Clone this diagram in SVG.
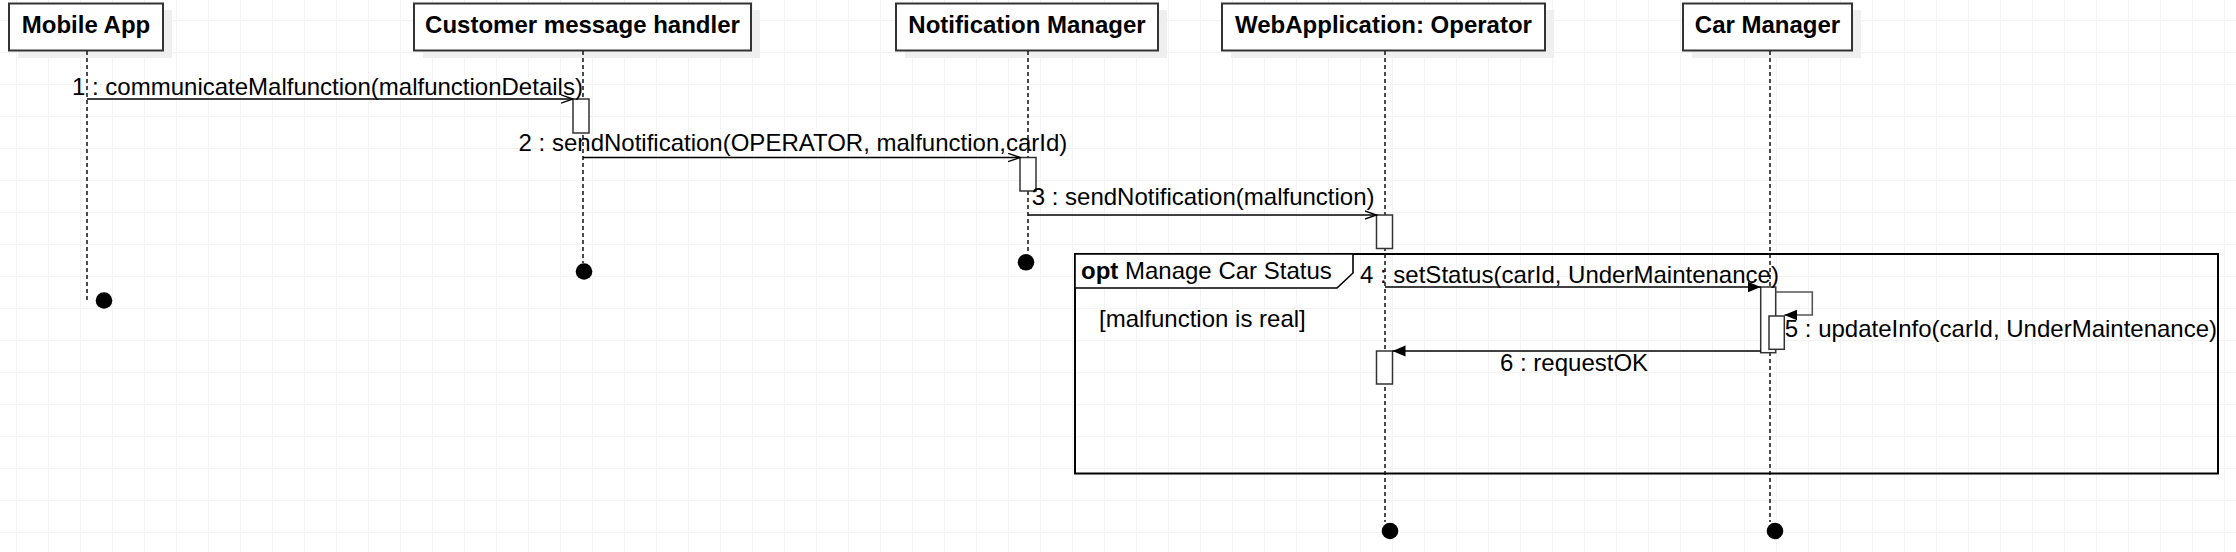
<svg xmlns="http://www.w3.org/2000/svg" width="2236" height="552" viewBox="0 0 2236 552">
<style>
.box{fill:#fff;stroke:#333;stroke-width:2}
.shadow{fill:#efefef}
.title{font-family:"Liberation Sans",Arial,sans-serif;font-size:24px;font-weight:bold;fill:#000;text-anchor:middle}
.lbl{font-family:"Liberation Sans",Arial,sans-serif;font-size:24px;fill:#000}
.life{stroke:#111;stroke-width:1.5;stroke-dasharray:4 3;fill:none}
.bar{fill:#fff;stroke:#333;stroke-width:1.5}
.dot{fill:#000}
.msg{stroke:#000;stroke-width:1.6;fill:none}
.open{stroke:#000;stroke-width:1.4;fill:none}
.frame{fill:none;stroke:#000;stroke-width:2}
</style>
<defs>
<pattern id="grid" x="16" y="20" width="32" height="32" patternUnits="userSpaceOnUse">
<path d="M0 0.5H32M0.5 0V32" stroke="#f3f3f3" stroke-width="1" fill="none"/>
</pattern>
<marker id="openArrow" markerWidth="14" markerHeight="10" refX="12" refY="5" orient="auto" markerUnits="userSpaceOnUse">
<path d="M0 0.8L12 5L0 9.2" class="open"/>
</marker>
<marker id="fillArrow" markerWidth="14" markerHeight="12" refX="13" refY="6" orient="auto" markerUnits="userSpaceOnUse">
<path d="M0 0.5L13 6L0 11.5Z" fill="#000"/>
</marker>
</defs>
<rect width="2236" height="552" fill="#fff"/>
<rect width="2236" height="552" fill="url(#grid)"/>

<g id="frame-opt">
<rect class="frame" x="1075" y="254" width="1143" height="219.5"/>
<path d="M1075 254H1353V273L1337 288H1075Z" fill="#fff" stroke="#000" stroke-width="1.6"/>
<text class="lbl" x="1081" y="279"><tspan font-weight="bold">opt</tspan> Manage Car Status</text>
<text class="lbl" x="1099" y="327">[malfunction is real]</text>
</g>

<g id="node-mobile-app">
<rect class="shadow" x="18" y="10" width="154" height="48"/>
<rect class="box" x="9" y="3.5" width="154" height="47"/>
<text class="title" x="86" y="33">Mobile App</text>
<line class="life" x1="87" y1="51" x2="87" y2="300" stroke="#555"/>
<circle class="dot" cx="104" cy="300.5" r="8.3"/>
</g>

<g id="node-customer-handler">
<rect class="shadow" x="423" y="10" width="337" height="48"/>
<rect class="box" x="414" y="3.5" width="337" height="47"/>
<text class="title" x="582.5" y="33">Customer message handler</text>
<line class="life" x1="583" y1="51" x2="583" y2="263"/>
<rect class="bar" x="573" y="99" width="16" height="34"/>
<circle class="dot" cx="584" cy="271.5" r="8.3"/>
</g>

<g id="node-notification-manager">
<rect class="shadow" x="905" y="10" width="262" height="48"/>
<rect class="box" x="896" y="3.5" width="262" height="47"/>
<text class="title" x="1027" y="33">Notification Manager</text>
<line class="life" x1="1028" y1="51" x2="1028" y2="252"/>
<rect class="bar" x="1020" y="157.5" width="16" height="33.5"/>
<circle class="dot" cx="1026" cy="262.3" r="8.3"/>
</g>

<g id="node-webapp-operator">
<rect class="shadow" x="1231" y="10" width="323" height="48"/>
<rect class="box" x="1222" y="3.5" width="323" height="47"/>
<text class="title" x="1383.5" y="33">WebApplication: Operator</text>
<line class="life" x1="1385" y1="51" x2="1385" y2="522"/>
<rect class="bar" x="1376.5" y="215" width="16" height="33.5"/>
<rect class="bar" x="1376.5" y="351" width="16" height="33"/>
<circle class="dot" cx="1390" cy="531" r="8.3"/>
</g>

<g id="node-car-manager">
<rect class="shadow" x="1692" y="10" width="169" height="48"/>
<rect class="box" x="1683" y="3.5" width="169" height="47"/>
<text class="title" x="1767.5" y="33">Car Manager</text>
<line class="life" x1="1770" y1="51" x2="1770" y2="522"/>
<rect class="bar" x="1760.7" y="287" width="15" height="65.7"/>
<rect class="bar" x="1769" y="316" width="15.3" height="33.3"/>
<circle class="dot" cx="1775" cy="531" r="8.3"/>
</g>

<g id="connectors">
<line class="msg" x1="87" y1="99" x2="573" y2="99" marker-end="url(#openArrow)"/>
<text class="lbl" x="72" y="95">1 : communicateMalfunction(malfunctionDetails)</text>
<line class="msg" x1="583" y1="157.5" x2="1020" y2="157.5" marker-end="url(#openArrow)"/>
<text class="lbl" x="518.6" y="150.5">2 : sendNotification(OPERATOR, malfunction,carId)</text>
<line class="msg" x1="1028" y1="215" x2="1376.5" y2="215" marker-end="url(#openArrow)"/>
<text class="lbl" x="1031.7" y="205">3 : sendNotification(malfunction)</text>
<line class="msg" x1="1385" y1="287" x2="1760.7" y2="287" marker-end="url(#fillArrow)"/>
<text class="lbl" x="1360" y="282.7">4 : setStatus(carId, UnderMaintenance)</text>
<polyline points="1775.7,292 1812.3,292 1812.3,315 1784.3,315" fill="none" stroke="#555" stroke-width="1.6" marker-end="url(#fillArrow)"/>
<text class="lbl" x="1784.8" y="337">5 : updateInfo(carId, UnderMaintenance)</text>
<line class="msg" x1="1760.7" y1="351" x2="1392.5" y2="351" marker-end="url(#fillArrow)"/>
<text class="lbl" x="1500" y="371">6 : requestOK</text>
</g>
</svg>
